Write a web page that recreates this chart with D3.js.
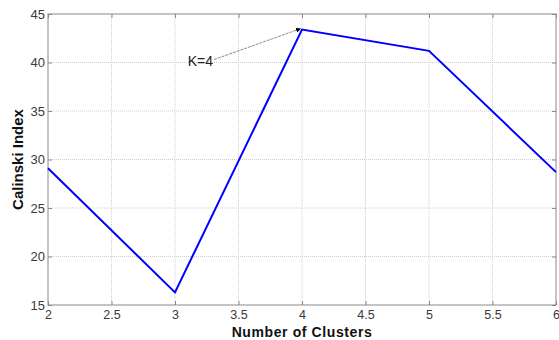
<!DOCTYPE html>
<html><head><meta charset="utf-8">
<script src="https://d3js.org/d3.v7.min.js"></script>
<style>body{margin:0;background:#fff}svg{display:block}</style>
</head><body>
<script>
const clusters = [2, 3, 4, 5, 6];
const calinski = [29.1, 16.3, 43.4, 41.2, 28.7];
const xTicks = [2, 2.5, 3, 3.5, 4, 4.5, 5, 5.5, 6];
const yTicks = [15, 20, 25, 30, 35, 40, 45];
const annotation = {label: "K=4", k: 4};

const W = 559, H = 340;
const m = {l: 48, r: 3, t: 14, b: 35};
const svg = d3.select("body").append("svg").attr("width", W).attr("height", H)
  .style("font-family", "'Liberation Sans', Arial, sans-serif");
const x = d3.scaleLinear().domain([2, 6]).range([m.l, W - m.r]);
const y = d3.scaleLinear().domain([15, 45]).range([H - m.b, m.t]);
const pw = W - m.r - m.l, ph = H - m.b - m.t;

// grid
const g = svg.append("g");
g.selectAll(".gx").data(xTicks.slice(1, -1)).join("line")
  .attr("x1", d => x(d)).attr("x2", d => x(d)).attr("y1", y(15)).attr("y2", y(45))
  .attr("stroke", "#d0d0d0").attr("stroke-dasharray", "1,1").attr("stroke-width", 1);
g.selectAll(".gy").data(yTicks.slice(1, -1)).join("line")
  .attr("y1", d => y(d)).attr("y2", d => y(d)).attr("x1", x(2)).attr("x2", x(6))
  .attr("stroke", "#d0d0d0").attr("stroke-dasharray", "1,1").attr("stroke-width", 1);

// axes
const axCol = "#8a8a8a", txtCol = "#3a3a3a";
function style(sel, fs) {
  sel.select(".domain").remove();
  sel.selectAll(".tick line").attr("stroke", axCol);
  sel.selectAll(".tick text").attr("fill", txtCol).style("font-size", fs || "13px");
}
svg.append("g").attr("transform", `translate(0,${y(15)})`)
  .call(d3.axisBottom(x).tickValues(xTicks).tickFormat(d3.format("")).tickSizeInner(-4).tickPadding(5))
  .call(s => style(s, "12.5px"));
svg.append("g").attr("transform", `translate(0,${y(45)})`)
  .call(d3.axisTop(x).tickValues(xTicks).tickFormat("").tickSizeInner(-4)).call(s => style(s));
svg.append("g").attr("transform", `translate(${x(2)},0)`)
  .call(d3.axisLeft(y).tickValues(yTicks).tickSizeInner(-4).tickPadding(3)).call(s => style(s));
svg.append("g").attr("transform", `translate(${x(6)},0)`)
  .call(d3.axisRight(y).tickValues(yTicks).tickFormat("").tickSizeInner(-4)).call(s => style(s));
svg.append("rect").attr("x", x(2)).attr("y", y(45)).attr("width", pw).attr("height", ph)
  .attr("fill", "none").attr("stroke", axCol).attr("stroke-width", 1);

// line
svg.append("path").datum(clusters.map((c, i) => [c, calinski[i]]))
  .attr("d", d3.line().x(d => x(d[0])).y(d => y(d[1])))
  .attr("fill", "none").attr("stroke", "#0000ff").attr("stroke-width", 2);

// annotation
const kv = calinski[clusters.indexOf(annotation.k)];
const tx = x(3.3), ty = y(40.2);
svg.append("defs").append("marker").attr("id", "ar").attr("viewBox", "0 0 10 10")
  .attr("refX", 10).attr("refY", 5).attr("markerWidth", 5).attr("markerHeight", 5).attr("orient", "auto")
  .append("path").attr("d", "M0,0L10,5L0,10z").attr("fill", "#000");
svg.append("line").attr("x1", tx + 1).attr("y1", ty - 1).attr("x2", x(annotation.k) - 1).attr("y2", y(kv) - 1)
  .attr("stroke", "#888").attr("stroke-width", 1).attr("stroke-dasharray", "3,1")
  .attr("marker-end", "url(#ar)");
svg.append("text").attr("x", tx).attr("y", ty + 5).attr("text-anchor", "end")
  .style("font-size", "14px").attr("fill", "#222").text(annotation.label);

// labels
svg.append("text").attr("x", (x(2) + x(6)) / 2).attr("y", 336.5).attr("text-anchor", "middle")
  .style("font-size", "14px").style("letter-spacing", "0.6px").style("font-weight", "bold")
  .attr("fill", "#111").text("Number of Clusters");
svg.append("text").attr("transform", `translate(23,${(y(15) + y(45)) / 2}) rotate(-90)`)
  .attr("text-anchor", "middle").style("font-size", "15px").style("font-weight", "bold")
  .attr("fill", "#111").text("Calinski Index");
</script>
</body></html>
